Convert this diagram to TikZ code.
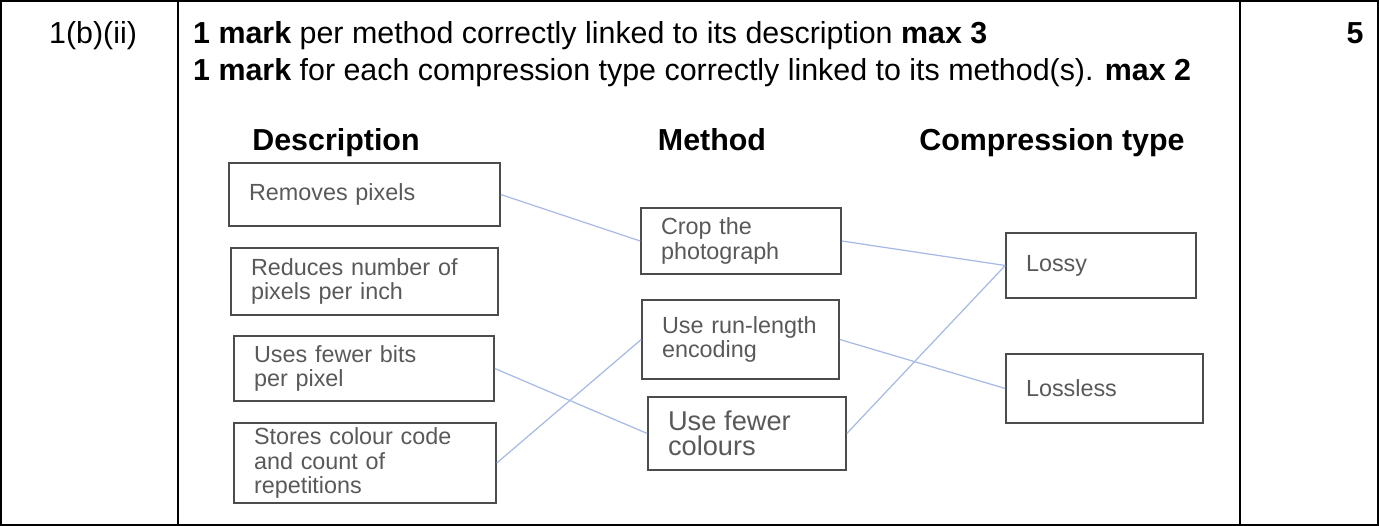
\documentclass[tikz,border=0pt]{standalone}
\usepackage{fontspec}
\setmainfont{Liberation Sans}
\usetikzlibrary{positioning}
\tikzset{
	box/.style 2 args={draw=black!70,line width=0.9pt,align=left,minimum width=#1cm,minimum height=#2cm,text width=#1cm-0.8cm,inner xsep=0.4cm,inner ysep=0pt,font=\fontsize{13.3}{14}\selectfont,text=black!65},
	link/.style={draw=cyan!45!blue!35,line width=0.7pt},
	head/.style={font=\fontsize{17.3}{19}\selectfont\bfseries,anchor=base},
	marktext/.style={font=\fontsize{17.3}{19}\selectfont}
}
\begin{document}
\begin{tikzpicture}[x=0.02cm,y=-0.02cm]
		\useasboundingbox (0,0) rectangle (1379,526);
		%table frame
		\draw[line width=0.8pt] (1,1) rectangle (1378,525);
		\draw[line width=0.8pt] (178,1) -- (178,525);
		\draw[line width=0.8pt] (1240,1) -- (1240,525);
		\node[marktext] (qn) at (93,36) {1(b)(ii)};
		\node[head] (mk) at (1355,44) {5};
		\node[marktext,anchor=west] (l1) at (187,36) {\textbf{1 mark} per method correctly linked to its description \textbf{max 3}};
		\node[marktext,anchor=west] (l2) at (187,73) {\textbf{1 mark} for each compression type correctly linked to its method(s). \textbf{max 2}};
		%headings
		\node[head] (hd) at (336,151) {Description};
		\node[head] (hm) at (712,151) {Method};
		\node[head] (hc) at (1052,151) {Compression type};
		%descriptions
		\node[box={5.42}{1.26}] (rem) at (364.5,194.5) {Removes pixels\\[12pt]};
		\node[box={5.34}{1.34}] (red) at (364.5,281.5) {Reduces number of\\pixels per inch};
		\node[box={5.2}{1.3}] (bits) at (364,368.5) {Uses fewer bits\\per pixel};
		\node[box={5.24}{1.6}] (sto) at (365,463) {Stores colour code\\and count of\\repetitions};
		%methods
		\node[box={4.0}{1.32}] (crop) at (741,241) {Crop the\\photograph};
		\node[box={3.94}{1.58}] (rle) at (740.5,339.5) {Use run-length\\encoding\\[8pt]};
		\node[box={3.96}{1.46}] (few) at (747,433.5) {\fontsize{15.5}{17}\selectfont Use fewer\\colours};
		%compression types
		\node[box={3.8}{1.3}] (lossy) at (1101,265.5) {Lossy\\[12pt]};
		\node[box={3.94}{1.38}] (lossl) at (1104.5,388.5) {Lossless\\[10pt]};
		%links
		\draw[link] (rem.east) -- (crop.west);
		\draw[link] (bits.east) -- (few.west);
		\draw[link] (sto.east) -- (rle.west);
		\draw[link] (crop.east) -- (lossy.west);
		\draw[link] (rle.east) -- (lossl.west);
		\draw[link] (few.east) -- (lossy.west);
\end{tikzpicture}
\end{document}
